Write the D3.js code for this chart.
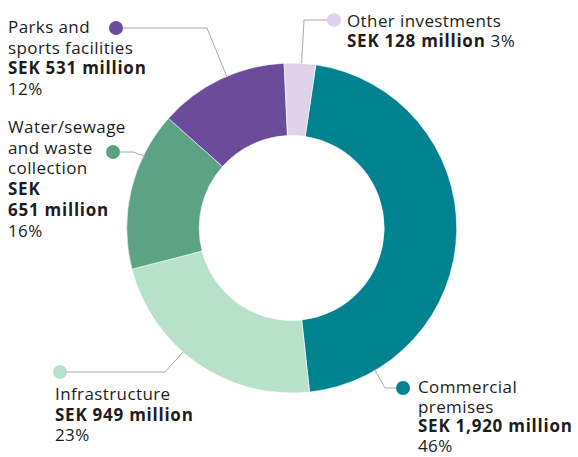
<!DOCTYPE html>
<html>
<head>
<meta charset="utf-8">
<script src="https://cdn.jsdelivr.net/npm/d3@7"></script>
<style>
  html, body { margin: 0; padding: 0; background: #fff; }
  svg { display: block; }
  text { font-family: "Open Sans", sans-serif; fill: #1d1d1b; }
</style>
</head>
<body>
<svg id="chart" width="578" height="457"></svg>
<script>
// Investment categories (SEK million), clockwise from just right of 12 o'clock
const categories = ["Commercial premises", "Infrastructure", "Water/sewage and waste collection", "Parks and sports facilities", "Other investments"];
const amounts = [1920, 949, 651, 531, 128];
const shares = ["46%", "23%", "16%", "12%", "3%"];
const colors = ["#00838f", "#b8e1c9", "#5ca386", "#6a4c9b", "#dfd2e9"];

// Label text lines per category: [text, bold?, trailing regular text]
const labelLines = [
  [["Commercial", false], ["premises", false], ["SEK 1,920 million", true], ["46%", false]],
  [["Infrastructure", false], ["SEK 949 million", true], ["23%", false]],
  [["Water/sewage", false], ["and waste", false], ["collection", false], ["SEK", true], ["651 million", true], ["16%", false]],
  [["Parks and", false], ["sports facilities", false], ["SEK 531 million", true], ["12%", false]],
  [["Other investments", false], ["SEK 128 million", true, "3%"]]
];

const svg = d3.select("#chart");
const cx = 291.7, cy = 228, outerR = 165, innerR = 92.5;
const g = svg.append("g").attr("transform", `translate(${cx},${cy})`);

const startDeg = 8.4;
const pie = d3.pie().sort(null).value(d => d)
  .startAngle(startDeg * Math.PI / 180)
  .endAngle((startDeg + 360) * Math.PI / 180);
const arcs = pie(amounts);
const arc = d3.arc().innerRadius(innerR).outerRadius(outerR);

g.selectAll("path.slice").data(arcs).enter().append("path")
  .attr("class", "slice")
  .attr("d", arc)
  .attr("fill", (d, i) => colors[i])
  .attr("stroke", "#fff")
  .attr("stroke-width", 0.6);

// Label layout: dot position, elbow x, anchor fraction along slice, text origin
const layout = [
  { dot: [403, 388], elbowX: 385, t: 0.854, tx: 418, ty: 393, lh: 19.5 },
  { dot: [60, 372], elbowX: 165, t: 0.58, tx: 55, ty: 400, lh: 20.5 },
  { dot: [113, 152], elbowX: 133, t: 0.72, tx: 8, ty: 133, lh: 20.7 },
  { dot: [116, 28], elbowX: 207, t: 0.55, tx: 8, ty: 33, lh: 20.7 },
  { dot: [334, 20], elbowX: 304, t: 0.55, tx: 347, ty: 26.5, lh: 20 }
];

arcs.forEach((a, i) => {
  const L = layout[i];
  const ang = a.startAngle + (a.endAngle - a.startAngle) * L.t;
  const ax = cx + outerR * Math.sin(ang);
  const ay = cy - outerR * Math.cos(ang);
  svg.append("polyline")
    .attr("points", `${L.dot[0]},${L.dot[1]} ${L.elbowX},${L.dot[1]} ${ax},${ay}`)
    .attr("fill", "none")
    .attr("stroke", "#a8a8a8")
    .attr("stroke-width", 1);
  svg.append("circle")
    .attr("cx", L.dot[0]).attr("cy", L.dot[1]).attr("r", 7)
    .attr("fill", colors[i]);

  const txt = svg.append("text").attr("font-size", 17);
  labelLines[i].forEach((ln, j) => {
    txt.append("tspan")
      .attr("x", L.tx).attr("y", L.ty + j * L.lh)
      .attr("font-weight", ln[1] ? 700 : 400)
      .attr("letter-spacing", ln[1] ? 0.75 : 0.4)
      .text(ln[0]);
    if (ln[2]) {
      txt.append("tspan")
        .attr("dx", 5)
        .attr("font-weight", 400)
        .attr("letter-spacing", 0.4)
        .text(ln[2]);
    }
  });
});
</script>
</body>
</html>
